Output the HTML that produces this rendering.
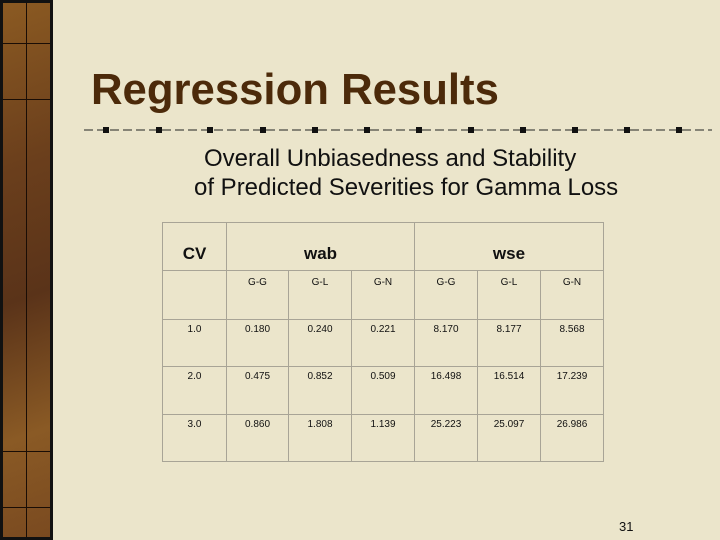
<!DOCTYPE html>
<html><head><meta charset="utf-8"><style>
body{margin:0;width:720px;height:540px;overflow:hidden;background:#ebe5cb;font-family:"Liberation Sans",sans-serif;position:relative}
.a{position:absolute}
#side{left:0;top:0;width:47px;height:534px;border:3px solid #111;background:linear-gradient(160deg,#8b5a22 0%,#6b3f1c 30%,#5a3319 55%,#8a5a25 80%,#7a4a20 100%)}
.vl{position:absolute;background:#1a0d05}
td{border:1px solid #a8a496;text-align:center;vertical-align:top;font-size:10px;color:#111;padding:0}
td.h{font-size:17px;font-weight:bold;padding-top:22px;line-height:17px}
table{border-collapse:collapse;position:absolute;left:162px;top:222px}
</style></head><body>
<div id="side" class="a">
<div class="vl" style="left:23px;top:0;width:1px;height:534px"></div>
<div class="vl" style="left:0;top:40px;width:47px;height:1px"></div>
<div class="vl" style="left:0;top:96px;width:47px;height:1px"></div>
<div class="vl" style="left:0;top:448px;width:47px;height:1px"></div>
<div class="vl" style="left:0;top:504px;width:47px;height:1px"></div>
</div>
<div class="a" style="left:91px;top:65px;font-size:43.7px;font-weight:bold;color:#4c2a0a">Regression Results</div>
<svg class="a" style="left:80px;top:124px" width="640" height="12">
<line x1="4" y1="6" x2="632" y2="6" stroke="#222" stroke-width="1" stroke-dasharray="9,4"/>
<g fill="#111">
<rect x="23" y="3" width="6" height="6"/><rect x="76" y="3" width="6" height="6"/><rect x="127" y="3" width="6" height="6"/>
<rect x="180" y="3" width="6" height="6"/><rect x="232" y="3" width="6" height="6"/><rect x="284" y="3" width="6" height="6"/>
<rect x="336" y="3" width="6" height="6"/><rect x="388" y="3" width="6" height="6"/><rect x="440" y="3" width="6" height="6"/>
<rect x="492" y="3" width="6" height="6"/><rect x="544" y="3" width="6" height="6"/><rect x="596" y="3" width="6" height="6"/></g>
</svg>
<div class="a" style="left:204px;top:145px;font-size:24px;color:#111">Overall Unbiasedness and Stability</div>
<div class="a" style="left:194px;top:174px;font-size:24px;color:#111">of Predicted Severities for Gamma Loss</div>
<table>
<tr style="height:48px"><td class="h" style="width:63px">CV</td><td colspan="3" class="h">wab</td><td colspan="3" class="h">wse</td></tr>
<tr style="height:49px"><td></td><td style="width:61px;padding-top:6px">G-G</td><td style="width:62px;padding-top:6px">G-L</td><td style="width:62px;padding-top:6px">G-N</td><td style="width:62px;padding-top:6px">G-G</td><td style="width:62px;padding-top:6px">G-L</td><td style="width:62px;padding-top:6px">G-N</td></tr>
<tr style="height:47px"><td style="padding-top:4px">1.0</td><td style="padding-top:4px">0.180</td><td style="padding-top:4px">0.240</td><td style="padding-top:4px">0.221</td><td style="padding-top:4px">8.170</td><td style="padding-top:4px">8.177</td><td style="padding-top:4px">8.568</td></tr>
<tr style="height:48px"><td style="padding-top:4px">2.0</td><td style="padding-top:4px">0.475</td><td style="padding-top:4px">0.852</td><td style="padding-top:4px">0.509</td><td style="padding-top:4px">16.498</td><td style="padding-top:4px">16.514</td><td style="padding-top:4px">17.239</td></tr>
<tr style="height:47px"><td style="padding-top:4px">3.0</td><td style="padding-top:4px">0.860</td><td style="padding-top:4px">1.808</td><td style="padding-top:4px">1.139</td><td style="padding-top:4px">25.223</td><td style="padding-top:4px">25.097</td><td style="padding-top:4px">26.986</td></tr>
</table>
<div class="a" style="left:619px;top:519px;font-size:13px;color:#111">31</div>
</body></html>
